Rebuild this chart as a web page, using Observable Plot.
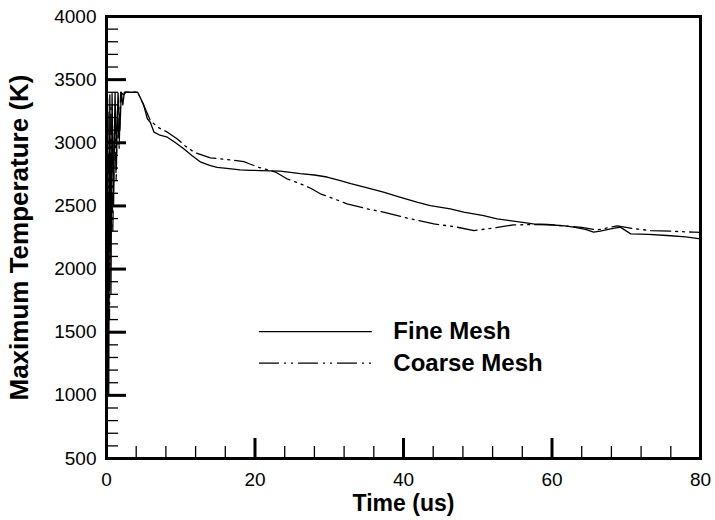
<!DOCTYPE html>
<html>
<head>
<meta charset="utf-8">
<script src="https://cdn.jsdelivr.net/npm/d3@7"></script>
<script src="https://cdn.jsdelivr.net/npm/@observablehq/plot@0.6"></script>
<style>
  html, body { margin: 0; padding: 0; background: #fff; }
  #chart { width: 715px; height: 520px; }
</style>
</head>
<body>
<div id="chart"></div>
<script>
// ---- data ----
const fineTime = [0, 0.15, 0.3, 0.45, 0.6, 0.75, 0.95, 1.15, 1.35, 1.55, 1.8, 2.0, 2.2, 2.4, 4.2, 5.0, 5.5, 5.9, 6.4, 7.2, 8.2, 9.3, 10.4, 11.5, 12.7, 14.0, 14.9, 16.5, 18, 19.4, 20.7, 23.4, 26.1, 28, 29.7, 31.5, 32.9, 35, 37.3, 39.5, 41.8, 43.6, 46.3, 48.1, 50.8, 52.6, 55.3, 57.5, 59.4, 62, 62.9, 64.5, 65.6, 66.5, 67.9, 69.2, 70.6, 73, 75.5, 78, 80];
const fineTemp = [500, 3350, 1000, 3380, 1800, 3390, 2500, 3395, 2900, 3395, 3100, 3400, 3300, 3400, 3400, 3300, 3190, 3163, 3084, 3060, 3044, 3000, 2952, 2900, 2846, 2820, 2806, 2795, 2786, 2782, 2780, 2775, 2755, 2745, 2729, 2700, 2676, 2645, 2610, 2570, 2530, 2503, 2477, 2451, 2424, 2398, 2375, 2358, 2353, 2340, 2332, 2315, 2292, 2300, 2318, 2332, 2279, 2275, 2266, 2255, 2239];

const coarseTime = [0, 0.2, 0.4, 0.6, 0.85, 1.1, 1.3, 1.5, 1.7, 1.9, 2.3, 2.6, 4.2, 5.0, 5.9, 7.0, 8.2, 9.5, 10.6, 11.8, 13, 14, 16.3, 18.5, 19.4, 20.5, 21.8, 22.8, 24.3, 26.1, 27.5, 28.8, 30.5, 32.4, 35.1, 37.3, 40, 42, 44.1, 47.2, 49.5, 52.2, 54.8, 57.5, 60, 62, 64, 66.1, 68.8, 71, 73.3, 76, 79.1, 80];
const coarseTemp = [500, 3250, 1600, 3300, 2300, 3230, 2700, 3300, 2950, 3400, 3380, 3400, 3400, 3300, 3176, 3120, 3084, 3032, 2975, 2925, 2900, 2881, 2867, 2851, 2830, 2806, 2785, 2767, 2715, 2676, 2640, 2596, 2560, 2517, 2477, 2451, 2411, 2385, 2358, 2332, 2305, 2326, 2350, 2352, 2350, 2340, 2330, 2310, 2342, 2320, 2305, 2300, 2292, 2290];

const xTicks = [0, 20, 40, 60, 80];
const xMinorTicks = d3.range(0, 81, 4).filter(v => v % 20 !== 0);
const yTicks = [500, 1000, 1500, 2000, 2500, 3000, 3500, 4000];
const yMinorTicks = d3.range(500, 4001, 100).filter(v => v % 500 !== 0);

const seriesNames = ["Fine Mesh", "Coarse Mesh"];
const xLabel = "Time (us)";
const yLabel = "Maximum Temperature (K)";

// ---- layout ----
const W = 715, H = 520;
const mL = 106, mR = 15, mT = 16, mB = 62;
const plotW = W - mL - mR, plotH = H - mT - mB;
const dashCoarse = "20,5,2,5,2,5";
const legendX = [20.6, 35.8];
const legendY = [1505, 1255];

const fine = fineTime.map((t, i) => ({t, v: fineTemp[i]}));
const coarse = coarseTime.map((t, i) => ({t, v: coarseTemp[i]}));
const legendFine = [{name: seriesNames[0], y: legendY[0]}];
const legendCoarse = [{name: seriesNames[1], y: legendY[1]}];

const font = "Arial, 'Liberation Sans', Helvetica, sans-serif";
const plot = Plot.plot({
  width: W, height: H,
  marginLeft: mL, marginRight: mR, marginTop: mT, marginBottom: mB,
  style: {fontFamily: font, background: "#fff", color: "#000"},
  x: {domain: [0, 80]},
  y: {domain: [500, 4000]},
  marks: [
    // major & minor ticks drawn inward
    Plot.tickX(xMinorTicks, {x: d => d, insetTop: plotH - 12, stroke: "#000", strokeWidth: 1.3}),
    Plot.tickX(xTicks, {x: d => d, insetTop: plotH - 20, stroke: "#000", strokeWidth: 3}),
    Plot.tickY(yMinorTicks, {y: d => d, insetRight: plotW - 12, stroke: "#000", strokeWidth: 1.3}),
    Plot.tickY(yTicks, {y: d => d, insetRight: plotW - 20, stroke: "#000", strokeWidth: 3}),
    Plot.axisX(xTicks, {tickSize: 0, tickPadding: 14, fontSize: 19, label: null, tickFormat: d => String(d)}),
    Plot.axisY(yTicks, {tickSize: 0, tickPadding: 10, fontSize: 19, label: null, tickFormat: d => String(d)}),
    // data
    Plot.line(fine, {x: "t", y: "v", stroke: "#000", strokeWidth: 1.3}),
    Plot.line(coarse, {x: "t", y: "v", stroke: "#000", strokeWidth: 1.3, strokeDasharray: dashCoarse}),
    // legend
    Plot.ruleY(legendFine, {y: "y", x1: legendX[0], x2: legendX[1], stroke: "#000", strokeWidth: 1.3}),
    Plot.ruleY(legendCoarse, {y: "y", x1: legendX[0], x2: legendX[1], stroke: "#000", strokeWidth: 1.3, strokeDasharray: dashCoarse}),
    Plot.text([...legendFine, ...legendCoarse], {x: legendX[1], y: "y", text: "name", textAnchor: "start", dx: 21,
      fontSize: 24, fontWeight: "bold", fill: "#000"}),
    // axis titles
    Plot.text([xLabel], {frameAnchor: "bottom", dy: 52, fontSize: 23, fontWeight: "bold", fill: "#000"}),
    Plot.text([yLabel], {frameAnchor: "left", textAnchor: "middle", rotate: -90, dx: -87, fontSize: 26, fontWeight: "bold", fill: "#000"}),
    Plot.frame({stroke: "#000", strokeWidth: 3})
  ]
});
document.getElementById("chart").appendChild(plot);
</script>
</body>
</html>
